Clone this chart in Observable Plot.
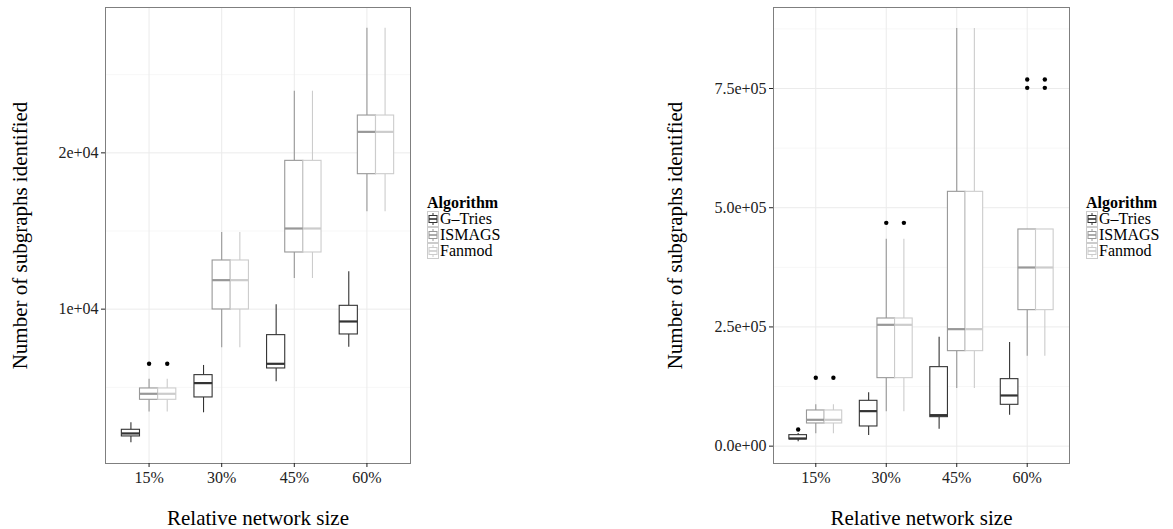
<!DOCTYPE html>
<html><head><meta charset="utf-8">
<script src="https://cdn.jsdelivr.net/npm/d3@7"></script>
<script src="https://cdn.jsdelivr.net/npm/@observablehq/plot@0.6"></script>
<style>
html,body{margin:0;padding:0;background:#fff;}
#root{position:relative;width:1173px;height:529px;overflow:hidden;}
.panel{position:absolute;top:0;}
.legend{position:absolute;font-family:"Liberation Serif","Times New Roman",serif;color:#000;}
.legend .title{font-weight:bold;font-size:16px;line-height:17px;margin-bottom:0px;}
.legend .row{display:flex;align-items:center;height:16px;font-size:16px;line-height:16px;}
.legend svg{display:block;margin-right:1px;}
</style></head>
<body><div id="root"></div>
<script>
// ---------- data ----------
const categories = ["15%", "30%", "45%", "60%"];
const algorithms = ["G–Tries", "ISMAGS", "Fanmod"];
const algColors = ["#333333", "#989898", "#cccccc"];

// [lower whisker, Q1, median, Q3, upper whisker] per category
const leftGTries = [[1450, 1855, 2047, 2281, 2729], [3369, 4350, 5267, 5778, 6397], [5352, 6205, 6503, 8337, 10277], [7569, 8380, 9211, 10213, 12388]];
const leftIsmags = [[3412, 4200, 4584, 4925, 5522], [7527, 9979, 11855, 13113, 14904], [11962, 13625, 15160, 19488, 23945], [16226, 18635, 21343, 22388, 27974]];
const leftFanmod = [[3412, 4200, 4584, 4925, 5522], [7527, 9979, 11855, 13113, 14904], [11962, 13625, 15160, 19488, 23945], [16226, 18635, 21343, 22388, 27974]];
const leftGTriesOut = [[], [], [], []];
const leftIsmagsOut = [[6503], [], [], []];
const leftFanmodOut = [[6503], [], [], []];
const leftYTicks = [10000, 20000];
const leftYLabels = ["1e+04", "2e+04"];
const leftYMinor = [5000, 15000, 25000];
const leftYDomain = [124, 29300];

const rightGTries = [[9000, 14050, 16077, 23067, 26562], [22368, 41241, 73395, 95064, 111840], [35649, 60813, 65007, 165663, 228573], [65007, 86676, 106248, 140499, 217389]];
const rightIsmags = [[25863, 47532, 55221, 74793, 86676], [71997, 142596, 254436, 267717, 434079], [120927, 199215, 245349, 533337, 875847], [188730, 285192, 374664, 454350, 454350]];
const rightFanmod = [[25863, 47532, 55221, 74793, 86676], [71997, 142596, 254436, 267717, 434079], [120927, 199215, 245349, 533337, 875847], [188730, 285192, 374664, 454350, 454350]];
const rightGTriesOut = [[35000], [], [], []];
const rightIsmagsOut = [[143295], [468330], [], [751425, 768900]];
const rightFanmodOut = [[143295], [468330], [], [751425, 768900]];
const rightYTicks = [0, 250000, 500000, 750000];
const rightYLabels = ["0.0e+00", "2.5e+05", "5.0e+05", "7.5e+05"];
const rightYMinor = [125000, 375000, 625000, 875000];
const rightYDomain = [-36400, 919900];

const yTitle = "Number of subgraphs identified";
const xTitle = "Relative network size";
const legendTitle = "Algorithm";

// ---------- helpers ----------
const FONT = '"Liberation Serif","Times New Roman",serif';
const DODGE = 0.25;

function buildRows(series) {
  const rows = [];
  series.forEach((stats, a) => {
    stats.forEach((s, i) => {
      rows.push({alg: algorithms[a], pos: i + (a - 1) * DODGE, lo: s[0], q1: s[1], med: s[2], q3: s[3], hi: s[4]});
    });
  });
  return rows;
}
function buildOutliers(outs) {
  const pts = [];
  outs.forEach((byCat, a) => byCat.forEach((vals, i) => vals.forEach(v => pts.push({alg: algorithms[a], pos: i + (a - 1) * DODGE, v}))));
  return pts;
}

function makePanel({series, outs, yTicks, yLabels, yMinor, yDomain, width, marginLeft, marginRight, titleDx}) {
  const rows = buildRows(series);
  const pts = buildOutliers(outs);
  const half = DODGE / 2;
  return Plot.plot({
    width, height: 529,
    marginLeft, marginRight, marginTop: 7, marginBottom: 66,
    style: {fontFamily: FONT, background: "transparent", overflow: "visible"},
    x: {domain: [-0.6, 3.6]},
    y: {domain: yDomain},
    color: {domain: algorithms, range: algColors},
    marks: [
      Plot.ruleY(yMinor, {stroke: "#f7f7f7", strokeWidth: 1}),
      Plot.gridY({ticks: yTicks, stroke: "#ebebeb", strokeOpacity: 1, strokeWidth: 1}),
      Plot.gridX({ticks: [0, 1, 2, 3], stroke: "#ebebeb", strokeOpacity: 1, strokeWidth: 1}),
      Plot.ruleX(rows, {x: "pos", y1: "lo", y2: "q1", stroke: "alg", strokeWidth: 1.1}),
      Plot.ruleX(rows, {x: "pos", y1: "q3", y2: "hi", stroke: "alg", strokeWidth: 1.1}),
      Plot.rect(rows, {x1: d => d.pos - half, x2: d => d.pos + half, y1: "q1", y2: "q3", fill: "white", stroke: "alg", strokeWidth: 1.1}),
      Plot.ruleY(rows, {y: "med", x1: d => d.pos - half, x2: d => d.pos + half, stroke: "alg", strokeWidth: 2.2}),
      Plot.dot(pts, {x: "pos", y: "v", r: 2.2, fill: "black", stroke: null}),
      Plot.frame({stroke: "#7f7f7f", strokeWidth: 1}),
      Plot.axisY({ticks: yTicks, tickFormat: d => yLabels[yTicks.indexOf(d)], tickSize: 4, tickPadding: 3, fontSize: 16, color: "#222", label: null}),
      Plot.axisX({ticks: [0, 1, 2, 3], tickFormat: d => categories[d], tickSize: 4, tickPadding: 4, fontSize: 16, color: "#222", label: null}),
      Plot.text([yTitle], {text: d => d, frameAnchor: "left", textAnchor: "middle", lineAnchor: "middle", dx: titleDx, rotate: -90, fontSize: 21, fill: "#000"}),
      Plot.text([xTitle], {text: d => d, frameAnchor: "bottom", textAnchor: "middle", lineAnchor: "middle", dy: 55, fontSize: 21, fill: "#000"})
    ]
  });
}

function makeLegend(left, top) {
  const div = document.createElement("div");
  div.className = "legend";
  div.style.left = left + "px";
  div.style.top = top + "px";
  const t = document.createElement("div");
  t.className = "title";
  t.textContent = legendTitle;
  div.appendChild(t);
  algorithms.forEach((name, a) => {
    const row = document.createElement("div");
    row.className = "row";
    const kw = 12, kh = 16;
    const svg = d3.create("svg").attr("width", kw).attr("height", kh);
    svg.append("rect").attr("x", 0.5).attr("y", 0.5).attr("width", kw - 1).attr("height", kh - 1).attr("fill", "white").attr("stroke", "#cccccc");
    const c = algColors[a];
    svg.append("line").attr("x1", kw / 2).attr("x2", kw / 2).attr("y1", 2).attr("y2", kh - 2).attr("stroke", c).attr("stroke-width", 1);
    svg.append("rect").attr("x", 2).attr("y", 4.5).attr("width", kw - 4).attr("height", kh - 9).attr("fill", "white").attr("stroke", c).attr("stroke-width", 1);
    svg.append("line").attr("x1", 2).attr("x2", kw - 2).attr("y1", kh / 2).attr("y2", kh / 2).attr("stroke", c).attr("stroke-width", 1.6);
    row.appendChild(svg.node());
    const s = document.createElement("span");
    s.textContent = name;
    row.appendChild(s);
    div.appendChild(row);
  });
  return div;
}

const root = document.getElementById("root");

const left = makePanel({
  series: [leftGTries, leftIsmags, leftFanmod],
  outs: [leftGTriesOut, leftIsmagsOut, leftFanmodOut],
  yTicks: leftYTicks, yLabels: leftYLabels, yMinor: leftYMinor, yDomain: leftYDomain,
  width: 412, marginLeft: 105, marginRight: 2, titleDx: -85
});
left.classList.add("panel");
left.style.left = "0px";
root.appendChild(left);

const right = makePanel({
  series: [rightGTries, rightIsmags, rightFanmod],
  outs: [rightGTriesOut, rightIsmagsOut, rightFanmodOut],
  yTicks: rightYTicks, yLabels: rightYLabels, yMinor: rightYMinor, yDomain: rightYDomain,
  width: 432, marginLeft: 133, marginRight: 3, titleDx: -98
});
right.classList.add("panel");
right.style.left = "640px";
root.appendChild(right);

root.appendChild(makeLegend(427, 194));
root.appendChild(makeLegend(1086, 194));
</script>
</body></html>
